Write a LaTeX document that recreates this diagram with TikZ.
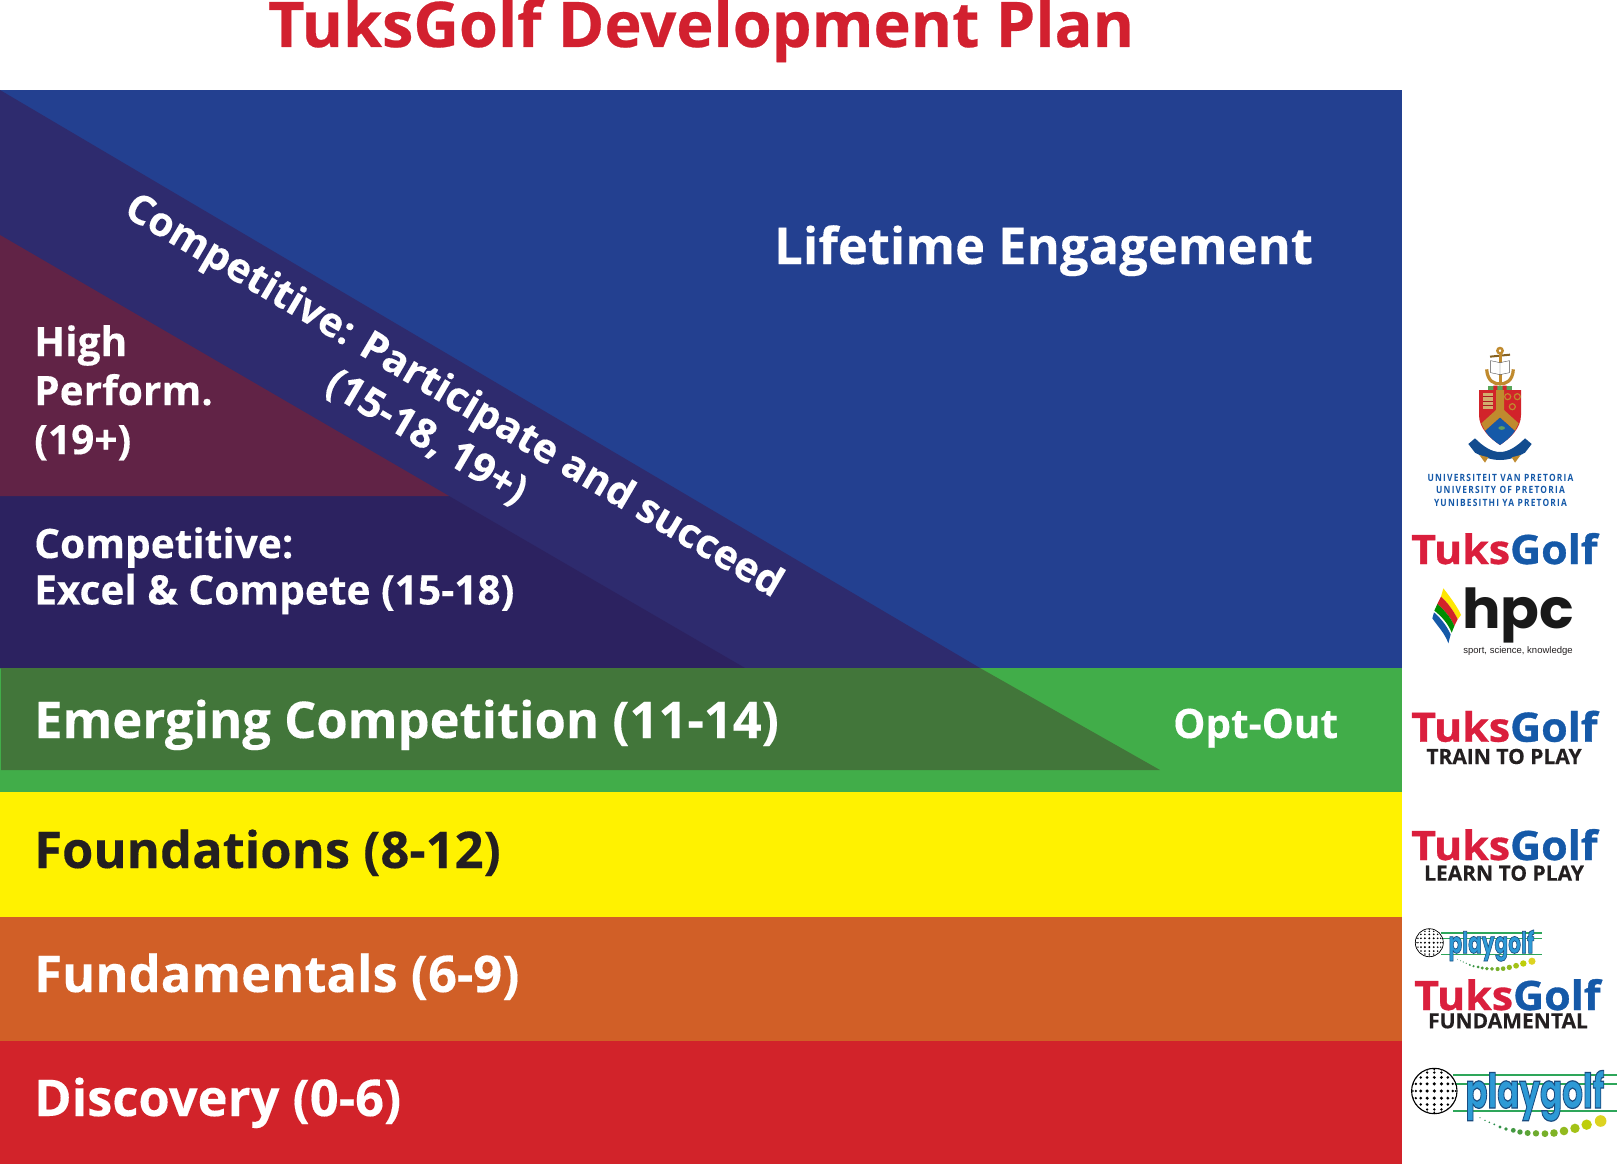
\documentclass[tikz,border=0pt]{standalone}
\usepackage{fontspec}
\setmainfont{Open Sans}
\newfontfamily\popf{Poppins}
\newfontfamily\libs{Liberation Sans}
\definecolor{cblue}{HTML}{234090}
\definecolor{cindigo}{HTML}{2E2B6E}
\definecolor{cmaroon}{HTML}{612346}
\definecolor{cdarkind}{HTML}{2C2260}
\definecolor{cgreen}{HTML}{41AD49}
\definecolor{cdgreen}{HTML}{42763A}
\definecolor{cyellow}{HTML}{FFF200}
\definecolor{corange}{HTML}{D15F27}
\definecolor{cred}{HTML}{D2232A}
\definecolor{ctitle}{HTML}{D2202F}
\definecolor{tred}{HTML}{DA1F3D}
\definecolor{tblue}{HTML}{1559A8}
\definecolor{cdark}{HTML}{231F20}
\definecolor{cgold}{HTML}{C08A2E}
\definecolor{pgblue}{HTML}{2E9AD6}
\definecolor{pggreen}{HTML}{2EA65A}
\newcommand{\hvy}{\bfseries\addfontfeature{FakeBold=0.25}}
\tikzset{
  lab/.style={anchor=base west,inner sep=0pt,text=white,align=left},
  biglab/.style={lab,font=\hvy\fontsize{50.7}{50.7}\selectfont},
  tuksg/.style={anchor=base west,inner sep=0pt,font=\bfseries\addfontfeature{FakeBold=0.8,FakeStretch=1.06}\fontsize{40.5}{42}\selectfont},
  sublab/.style={anchor=base,inner sep=0pt,font=\hvy\fontsize{21}{24}\selectfont,text=cdark},
  upname/.style={anchor=base,inner sep=0pt,text=tblue,font=\bfseries\addfontfeature{LetterSpace=12,FakeStretch=0.84}\fontsize{10}{12}\selectfont}
}
\newcommand{\tuksword}{{\color{tred}Tuks}{\color{tblue}Golf}}
\newcommand{\pglogo}[4]{% name, cx, cy, scale
  \begin{scope}[shift={(#2,#3)},scale=#4]
    \foreach \yy in {-15.7,-6.7,19.5}{
      \draw[pggreen,line width=#4*2pt] (19,\yy) -- (183,\yy);
    }
    \begin{scope}
      \clip (0,0) circle[radius=22.7pt];
      \fill[white] (0,0) circle[radius=22.7pt];
      \foreach \ii in {-4,...,4}{\foreach \jj in {-4,...,4}{
        \pgfmathsetmacro{\px}{22*sin(\ii*19)}
        \pgfmathsetmacro{\py}{22*sin(\jj*19)}
        \pgfmathsetmacro{\pr}{1.8*cos(\ii*14)*cos(\jj*14)}
        \fill[black] (\px,\py) circle[radius=\pr pt];
      }}
    \end{scope}
    \draw[black,line width=#4*1.1pt] (0,0) circle[radius=22.7pt];
    \node[anchor=base west,inner sep=0pt,transform shape,xscale=0.68,text=pgblue,font=\popf\bfseries\fontsize{48}{50}\selectfont] (#1) at (31,17)
      {\special{pdf:literal direct q 2 Tr 1.2 w 0.10 0.30 0.50 RG}playgolf\special{pdf:literal direct Q}};
    \foreach \zx/\zy/\zr/\zm in {225/172/0.6/100,240/180/0.8/100,253/186/0.9/100,268/192/1/100,285/200/1.7/95,303/206/1.9/90,325/210/2.4/85,345/215/2.7/80,368/218/3/70,393/219/3.2/60,420/220/3.4/55,447/218/3.8/50,477/212/4.3/40,510/204/4.7/30,545/193/5.2/15,587/182/5.8/0}{
      \fill[pggreen!\zm!yellow!85!black] ({(\zx-88)/3},{(\zy-92)/3}) circle[radius=\zr pt];
    }
  \end{scope}
}
\begin{document}
\begin{tikzpicture}[x=1pt,y=-1pt]
\useasboundingbox (0,0) rectangle (1617,1164);
\fill[white] (0,0) rectangle (1617,1164);
% bands
\fill[cblue] (0,90) rectangle (1401.5,668);
\fill[cgreen] (0,668) rectangle (1401.5,792);
\fill[cyellow] (0,792) rectangle (1401.5,917);
\fill[corange] (0,917) rectangle (1401.5,1041);
\fill[cred] (0,1041) rectangle (1401.5,1164);
% triangles
\fill[cindigo] (0,90) -- (980,668) -- (0,668) -- cycle;
\fill[cdarkind] (0,496) -- (449,496) -- (745,668) -- (0,668) -- cycle;
\fill[cmaroon] (0,235) -- (449,496) -- (0,496) -- cycle;
\fill[cdgreen] (1,668) -- (980,668) -- (1160,770) -- (1,770) -- cycle;
% title
\node[lab,text=ctitle,font=\bfseries\addfontfeature{FakeBold=0.4}\fontsize{63}{63}\selectfont] (title) at (268,47) {TuksGolf Development Plan};
% labels
\node[biglab] (life) at (774,264) {Lifetime Engagement};
\node[lab,font=\hvy\fontsize{40.6}{49}\selectfont,anchor=north west] (high) at (34,325) {High\\Perform.\\(19+)};
\node[lab,font=\hvy\fontsize{40.6}{46.4}\selectfont,anchor=north west] (excel) at (34,527) {Competitive:\\Excel \& Compete (15-18)};
\node[anchor=center,inner sep=0pt,rotate=-30.5,text=white,font=\hvy\fontsize{40.5}{48}\selectfont] (part) at (453,397.5) {Competitive: Participate and succeed};
\node[anchor=center,inner sep=0pt,rotate=-30.5,text=white,font=\hvy\fontsize{40.6}{48}\selectfont] (age) at (426,438) {(15-18, 19+)};
\node[biglab] (emerg) at (34,738) {Emerging Competition (11-14)};
\node[lab,font=\hvy\fontsize{40.5}{40}\selectfont] (opt) at (1173,738) {Opt-Out};
\node[biglab,text=cdark] (found) at (34,868) {Foundations (8-12)};
\node[biglab] (fund) at (34,992) {Fundamentals (6-9)};
\node[biglab] (disc) at (34,1116) {Discovery (0-6)};
% crest
\begin{scope}[shift={(1460,340)},scale=1/3]
  \draw[cgold,line width=2.4pt] (120,32) circle[radius=8pt];
  \draw[cgold!70!black,line width=2pt] (90,50) -- (150,44);
  \draw[cgold,line width=3pt] (120,40) -- (120,132);
  \draw[cgold,line width=3.2pt] (80,88) .. controls (82,125) and (105,132) .. (120,132) .. controls (135,132) and (158,125) .. (160,88);
  \fill[white] (92,62) -- (120,68) -- (148,62) -- (148,98) -- (120,104) -- (92,98) -- cycle;
  \draw[cdark!80,line width=0.4pt] (92,62) -- (120,68) -- (148,62) -- (148,98) -- (120,104) -- (92,98) -- cycle (120,68) -- (120,104);
  \fill[gray!70!green] (85,137) rectangle (155,150);
  \fill[cred] (100,137) rectangle (112,150) (128,137) rectangle (140,150);
  \fill[cred] (57,150) -- (183,150) -- (183,225) .. controls (183,265) and (150,295) .. (120,315) .. controls (90,295) and (57,265) .. (57,225) -- cycle;
  \fill[tblue] (120,232) -- (165,272) .. controls (155,290) and (135,305) .. (120,315) .. controls (105,305) and (85,290) .. (75,272) -- cycle;
  \fill[cgold] (108,150) -- (132,150) -- (132,210) -- (176,250) -- (165,272) -- (120,232) -- (75,272) -- (64,250) -- (108,210) -- cycle;
  \fill[gray!75!green] (125,264) ellipse[x radius=10pt,y radius=5.5pt];
  \fill[cgold!70!white] (68,158) rectangle (100,208);
  \foreach \qy in {168,182,196}{\fill[cred!80!black] (70,\qy) rectangle (98,\qy+3);}
  \foreach \qx/\qy in {143/170,172/170,157/200}{\draw[cgold,line width=1.2pt] (\qx,\qy) circle[radius=9pt];}
  \fill[tblue!85!black] (25,312) -- (45,295) .. controls (70,320) and (95,336) .. (120,336) .. controls (145,336) and (170,320) .. (195,295) -- (215,312) -- (195,338) .. controls (170,352) and (145,360) .. (120,360) .. controls (95,360) and (70,352) .. (45,338) -- cycle;
  \fill[cgold] (58,345) -- (85,352) -- (75,368) -- cycle (182,345) -- (155,352) -- (165,368) -- cycle;
\end{scope}
\node[upname] (up1) at (1500.5,481) {UNIVERSITEIT VAN PRETORIA};
\node[upname] (up2) at (1500.5,493.5) {UNIVERSITY OF PRETORIA};
\node[upname] (up3) at (1500.5,506) {YUNIBESITHI YA PRETORIA};
% tuksgolf logos
\node[tuksg] (t1) at (1411,564) {\tuksword};
\node[tuksg] (t2) at (1411,741.7) {\tuksword};
\node[sublab] (s2) at (1504,764) {TRAIN TO PLAY};
\node[tuksg] (t3) at (1411,860) {\tuksword};
\node[sublab] (s3) at (1504,880.7) {LEARN TO PLAY};
\node[tuksg] (t4) at (1414,1010) {\tuksword};
\node[sublab] (s4) at (1508,1028.3) {FUNDAMENTAL};
% hpc
\begin{scope}[shift={(1425,580)},scale=1/3]
  \fill[yellow!90!orange] (55,25) .. controls (75,50) and (100,85) .. (108,105) -- (98,118) .. controls (85,90) and (65,65) .. (48,50) -- cycle;
  \fill[cred] (48,50) .. controls (65,65) and (85,90) .. (98,118) -- (88,138) .. controls (75,108) and (55,88) .. (37,72) -- cycle;
  \fill[green!55!black] (37,72) .. controls (55,88) and (75,108) .. (88,138) -- (80,158) .. controls (68,128) and (48,108) .. (28,92) -- cycle;
  \fill[tblue] (27,97) .. controls (44,112) and (62,132) .. (77,163) -- (70,190) .. controls (60,160) and (35,135) .. (22,115) -- cycle;
\end{scope}
\node[anchor=base west,inner sep=0pt,text=black!90,font=\popf\bfseries\addfontfeature{FakeStretch=1.04}\fontsize{55}{55}\selectfont] (hpc) at (1462,628) {hpc};
\node[anchor=base,inner sep=0pt,text=cdark,font=\libs\fontsize{9.5}{10}\selectfont] (slog) at (1518,653) {sport, science, knowledge};
% playgolf
\pglogo{pg1}{1429.3}{942.7}{0.617}
\pglogo{pg2}{1434.3}{1091}{1}
\end{tikzpicture}
\end{document}
